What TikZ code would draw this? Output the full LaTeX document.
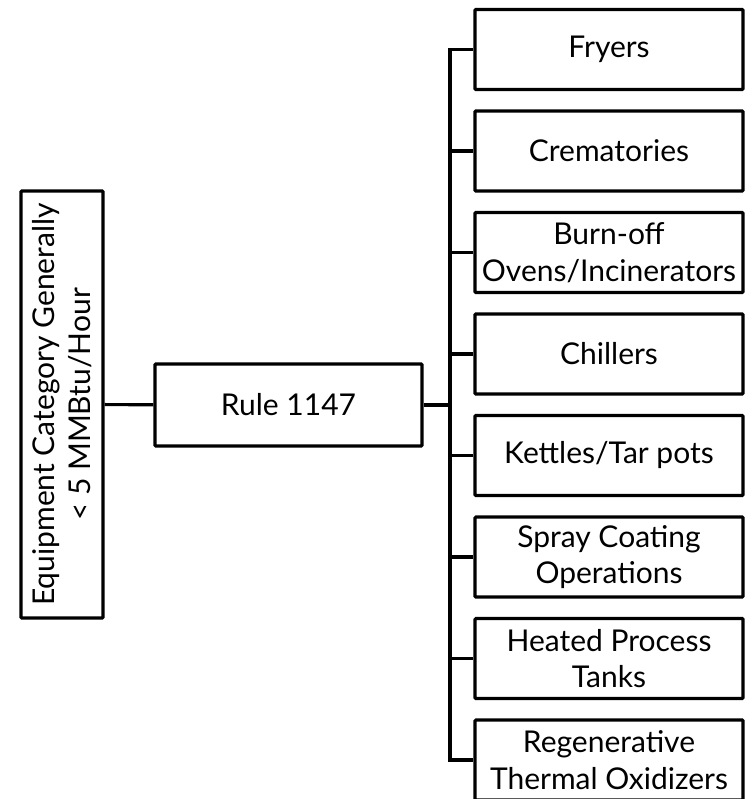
\documentclass[tikz,border=0pt]{standalone}
\usepackage{fontspec}
\setmainfont{Lato}
\begin{document}
\begin{tikzpicture}[x=1pt,y=-1pt,
    boxed/.style={draw=black,line width=3.2pt,rounded corners=1pt,inner sep=0pt,
      align=center,font=\fontsize{30}{36.5}\selectfont},
    itembox/.style={boxed,minimum width=268pt,minimum height=80pt},
    link/.style={line width=3.2pt,line join=miter}]
    % Page frame
    \useasboundingbox (0,0) rectangle (752,799);

    % Category box on the left (text runs upward)
    \node[boxed,rotate=90,minimum width=427pt,minimum height=82pt] (cat) at (62,404.5)
        {Equipment Category Generally\\< 5 MMBtu/Hour};

    % Rule box in the middle
    \node[boxed,minimum width=267pt,minimum height=82pt] (rule) at (288.5,405) {Rule 1147};

    % Equipment boxes on the right
    \def\gap{101.5}
    \foreach \name [count=\i] in {Fryers,Crematories,Burn-off\\Ovens/Incinerators,Chillers,
        Kettles/Tar pots,Spray Coating\\Operations,Heated Process\\Tanks,
        Regenerative\\Thermal Oxidizers} {
        \pgfmathsetmacro{\y}{49.5+(\i-1)*\gap}
        \node[itembox] (item\i) at (609,\y) {\name};
    }

    % Connectors
    \coordinate (bus) at (450,405);
    \draw[link] (cat) -- (rule);
    \draw[link] (rule) -- (bus);
    \draw[link] (item1.west) -| (bus) |- (item8.west);
    \foreach \i in {2,...,7} {
        \draw[link] (item\i.west -| bus) -- (item\i.west);
    }
\end{tikzpicture}
\end{document}
